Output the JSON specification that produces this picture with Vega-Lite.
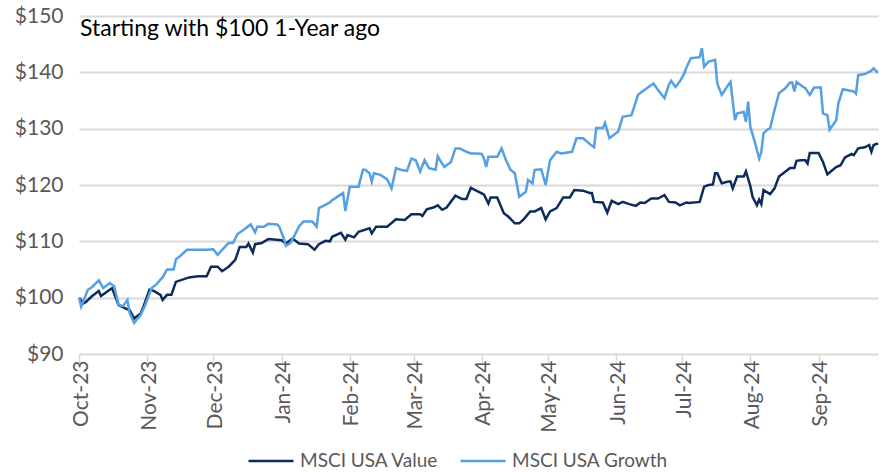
{
"$schema": "https://vega.github.io/schema/vega-lite/v6.json",
"width": 799, "height": 338,
"autosize": {"type": "none"},
"padding": {"left": 79, "top": 16, "right": 5, "bottom": 118},
"config": {"view": {"stroke": null}, "font": "Lato"},
"data": {"values": [
{"date":"2023-10-01","series":"MSCI USA Value","value":100},
{"date":"2023-10-03","series":"MSCI USA Value","value":99},
{"date":"2023-10-04","series":"MSCI USA Value","value":99.2},
{"date":"2023-10-07","series":"MSCI USA Value","value":100.3},
{"date":"2023-10-10","series":"MSCI USA Value","value":101.2},
{"date":"2023-10-11","series":"MSCI USA Value","value":100.3},
{"date":"2023-10-16","series":"MSCI USA Value","value":101.7},
{"date":"2023-10-19","series":"MSCI USA Value","value":98.7},
{"date":"2023-10-22","series":"MSCI USA Value","value":98.1},
{"date":"2023-10-24","series":"MSCI USA Value","value":97.8},
{"date":"2023-10-26","series":"MSCI USA Value","value":96.3},
{"date":"2023-10-29","series":"MSCI USA Value","value":97.2},
{"date":"2023-10-30","series":"MSCI USA Value","value":98.1},
{"date":"2023-11-02","series":"MSCI USA Value","value":101.4},
{"date":"2023-11-04","series":"MSCI USA Value","value":101.2},
{"date":"2023-11-07","series":"MSCI USA Value","value":100.5},
{"date":"2023-11-08","series":"MSCI USA Value","value":99.6},
{"date":"2023-11-10","series":"MSCI USA Value","value":100.5},
{"date":"2023-11-12","series":"MSCI USA Value","value":100.5},
{"date":"2023-11-14","series":"MSCI USA Value","value":102.8},
{"date":"2023-11-17","series":"MSCI USA Value","value":103.2},
{"date":"2023-11-20","series":"MSCI USA Value","value":103.6},
{"date":"2023-11-24","series":"MSCI USA Value","value":103.8},
{"date":"2023-11-28","series":"MSCI USA Value","value":103.8},
{"date":"2023-11-30","series":"MSCI USA Value","value":105.5},
{"date":"2023-12-03","series":"MSCI USA Value","value":105.5},
{"date":"2023-12-05","series":"MSCI USA Value","value":104.7},
{"date":"2023-12-08","series":"MSCI USA Value","value":105.5},
{"date":"2023-12-11","series":"MSCI USA Value","value":106.7},
{"date":"2023-12-13","series":"MSCI USA Value","value":109},
{"date":"2023-12-16","series":"MSCI USA Value","value":109},
{"date":"2023-12-17","series":"MSCI USA Value","value":109.6},
{"date":"2023-12-19","series":"MSCI USA Value","value":108},
{"date":"2023-12-20","series":"MSCI USA Value","value":109.5},
{"date":"2023-12-23","series":"MSCI USA Value","value":109.7},
{"date":"2023-12-26","series":"MSCI USA Value","value":110.4},
{"date":"2024-01-01","series":"MSCI USA Value","value":110.2},
{"date":"2024-01-03","series":"MSCI USA Value","value":109.6},
{"date":"2024-01-06","series":"MSCI USA Value","value":110.5},
{"date":"2024-01-09","series":"MSCI USA Value","value":109.6},
{"date":"2024-01-13","series":"MSCI USA Value","value":109.5},
{"date":"2024-01-16","series":"MSCI USA Value","value":108.5},
{"date":"2024-01-18","series":"MSCI USA Value","value":109.5},
{"date":"2024-01-21","series":"MSCI USA Value","value":110.1},
{"date":"2024-01-23","series":"MSCI USA Value","value":110},
{"date":"2024-01-24","series":"MSCI USA Value","value":110.8},
{"date":"2024-01-28","series":"MSCI USA Value","value":111.5},
{"date":"2024-01-30","series":"MSCI USA Value","value":110.3},
{"date":"2024-01-31","series":"MSCI USA Value","value":111.1},
{"date":"2024-02-03","series":"MSCI USA Value","value":110.7},
{"date":"2024-02-05","series":"MSCI USA Value","value":111.7},
{"date":"2024-02-10","series":"MSCI USA Value","value":112.3},
{"date":"2024-02-11","series":"MSCI USA Value","value":111.4},
{"date":"2024-02-13","series":"MSCI USA Value","value":112.6},
{"date":"2024-02-18","series":"MSCI USA Value","value":112.6},
{"date":"2024-02-22","series":"MSCI USA Value","value":113.9},
{"date":"2024-02-26","series":"MSCI USA Value","value":113.8},
{"date":"2024-02-29","series":"MSCI USA Value","value":114.8},
{"date":"2024-03-04","series":"MSCI USA Value","value":114.8},
{"date":"2024-03-05","series":"MSCI USA Value","value":114.5},
{"date":"2024-03-07","series":"MSCI USA Value","value":115.7},
{"date":"2024-03-10","series":"MSCI USA Value","value":116},
{"date":"2024-03-12","series":"MSCI USA Value","value":116.4},
{"date":"2024-03-14","series":"MSCI USA Value","value":115.6},
{"date":"2024-03-16","series":"MSCI USA Value","value":116},
{"date":"2024-03-20","series":"MSCI USA Value","value":118.1},
{"date":"2024-03-23","series":"MSCI USA Value","value":117.5},
{"date":"2024-03-25","series":"MSCI USA Value","value":117.5},
{"date":"2024-03-27","series":"MSCI USA Value","value":119.5},
{"date":"2024-03-29","series":"MSCI USA Value","value":119.1},
{"date":"2024-04-01","series":"MSCI USA Value","value":118.5},
{"date":"2024-04-02","series":"MSCI USA Value","value":118.3},
{"date":"2024-04-04","series":"MSCI USA Value","value":116.7},
{"date":"2024-04-05","series":"MSCI USA Value","value":117.8},
{"date":"2024-04-08","series":"MSCI USA Value","value":117.8},
{"date":"2024-04-11","series":"MSCI USA Value","value":115},
{"date":"2024-04-13","series":"MSCI USA Value","value":114.4},
{"date":"2024-04-16","series":"MSCI USA Value","value":113.2},
{"date":"2024-04-18","series":"MSCI USA Value","value":113.2},
{"date":"2024-04-20","series":"MSCI USA Value","value":113.9},
{"date":"2024-04-23","series":"MSCI USA Value","value":115.3},
{"date":"2024-04-25","series":"MSCI USA Value","value":115.3},
{"date":"2024-04-28","series":"MSCI USA Value","value":115.9},
{"date":"2024-04-30","series":"MSCI USA Value","value":113.9},
{"date":"2024-05-02","series":"MSCI USA Value","value":115.3},
{"date":"2024-05-05","series":"MSCI USA Value","value":115.9},
{"date":"2024-05-08","series":"MSCI USA Value","value":117.8},
{"date":"2024-05-11","series":"MSCI USA Value","value":117.8},
{"date":"2024-05-13","series":"MSCI USA Value","value":119.1},
{"date":"2024-05-17","series":"MSCI USA Value","value":119},
{"date":"2024-05-20","series":"MSCI USA Value","value":118.6},
{"date":"2024-05-21","series":"MSCI USA Value","value":118.6},
{"date":"2024-05-22","series":"MSCI USA Value","value":117},
{"date":"2024-05-26","series":"MSCI USA Value","value":116.9},
{"date":"2024-05-28","series":"MSCI USA Value","value":115.1},
{"date":"2024-05-30","series":"MSCI USA Value","value":117.2},
{"date":"2024-06-02","series":"MSCI USA Value","value":116.6},
{"date":"2024-06-04","series":"MSCI USA Value","value":117},
{"date":"2024-06-07","series":"MSCI USA Value","value":116.6},
{"date":"2024-06-10","series":"MSCI USA Value","value":116.3},
{"date":"2024-06-12","series":"MSCI USA Value","value":116.9},
{"date":"2024-06-14","series":"MSCI USA Value","value":116.8},
{"date":"2024-06-17","series":"MSCI USA Value","value":117.6},
{"date":"2024-06-20","series":"MSCI USA Value","value":117.6},
{"date":"2024-06-23","series":"MSCI USA Value","value":118.2},
{"date":"2024-06-25","series":"MSCI USA Value","value":117},
{"date":"2024-06-28","series":"MSCI USA Value","value":116.9},
{"date":"2024-06-30","series":"MSCI USA Value","value":116.4},
{"date":"2024-07-03","series":"MSCI USA Value","value":116.9},
{"date":"2024-07-04","series":"MSCI USA Value","value":116.8},
{"date":"2024-07-09","series":"MSCI USA Value","value":117},
{"date":"2024-07-11","series":"MSCI USA Value","value":119.7},
{"date":"2024-07-13","series":"MSCI USA Value","value":120},
{"date":"2024-07-15","series":"MSCI USA Value","value":120.1},
{"date":"2024-07-16","series":"MSCI USA Value","value":122.1},
{"date":"2024-07-17","series":"MSCI USA Value","value":122.1},
{"date":"2024-07-19","series":"MSCI USA Value","value":120.3},
{"date":"2024-07-22","series":"MSCI USA Value","value":120.6},
{"date":"2024-07-23","series":"MSCI USA Value","value":120.6},
{"date":"2024-07-24","series":"MSCI USA Value","value":119.4},
{"date":"2024-07-26","series":"MSCI USA Value","value":121.5},
{"date":"2024-07-29","series":"MSCI USA Value","value":121.5},
{"date":"2024-07-30","series":"MSCI USA Value","value":122.4},
{"date":"2024-08-01","series":"MSCI USA Value","value":119.8},
{"date":"2024-08-02","series":"MSCI USA Value","value":117.9},
{"date":"2024-08-04","series":"MSCI USA Value","value":116.4},
{"date":"2024-08-05","series":"MSCI USA Value","value":117.4},
{"date":"2024-08-06","series":"MSCI USA Value","value":116.6},
{"date":"2024-08-07","series":"MSCI USA Value","value":119.1},
{"date":"2024-08-10","series":"MSCI USA Value","value":118.4},
{"date":"2024-08-12","series":"MSCI USA Value","value":119.4},
{"date":"2024-08-14","series":"MSCI USA Value","value":121.5},
{"date":"2024-08-17","series":"MSCI USA Value","value":122.4},
{"date":"2024-08-19","series":"MSCI USA Value","value":123},
{"date":"2024-08-21","series":"MSCI USA Value","value":123},
{"date":"2024-08-22","series":"MSCI USA Value","value":124.3},
{"date":"2024-08-24","series":"MSCI USA Value","value":124.4},
{"date":"2024-08-26","series":"MSCI USA Value","value":124.4},
{"date":"2024-08-27","series":"MSCI USA Value","value":123.8},
{"date":"2024-08-28","series":"MSCI USA Value","value":125.7},
{"date":"2024-09-01","series":"MSCI USA Value","value":125.7},
{"date":"2024-09-03","series":"MSCI USA Value","value":124.1},
{"date":"2024-09-05","series":"MSCI USA Value","value":121.9},
{"date":"2024-09-09","series":"MSCI USA Value","value":123.2},
{"date":"2024-09-11","series":"MSCI USA Value","value":123.5},
{"date":"2024-09-13","series":"MSCI USA Value","value":124.9},
{"date":"2024-09-16","series":"MSCI USA Value","value":125.5},
{"date":"2024-09-17","series":"MSCI USA Value","value":125.3},
{"date":"2024-09-19","series":"MSCI USA Value","value":126.5},
{"date":"2024-09-22","series":"MSCI USA Value","value":126.7},
{"date":"2024-09-24","series":"MSCI USA Value","value":127.1},
{"date":"2024-09-25","series":"MSCI USA Value","value":125.9},
{"date":"2024-09-26","series":"MSCI USA Value","value":127.1},
{"date":"2024-09-28","series":"MSCI USA Value","value":127.4},
{"date":"2023-10-01","series":"MSCI USA Growth","value":100},
{"date":"2023-10-02","series":"MSCI USA Growth","value":98.4},
{"date":"2023-10-05","series":"MSCI USA Growth","value":101.4},
{"date":"2023-10-07","series":"MSCI USA Growth","value":101.9},
{"date":"2023-10-10","series":"MSCI USA Growth","value":103.1},
{"date":"2023-10-12","series":"MSCI USA Growth","value":101.7},
{"date":"2023-10-15","series":"MSCI USA Growth","value":102.6},
{"date":"2023-10-17","series":"MSCI USA Growth","value":102},
{"date":"2023-10-19","series":"MSCI USA Growth","value":98.7},
{"date":"2023-10-21","series":"MSCI USA Growth","value":98.5},
{"date":"2023-10-23","series":"MSCI USA Growth","value":99.6},
{"date":"2023-10-24","series":"MSCI USA Growth","value":97.3},
{"date":"2023-10-26","series":"MSCI USA Growth","value":95.5},
{"date":"2023-10-29","series":"MSCI USA Growth","value":96.9},
{"date":"2023-10-31","series":"MSCI USA Growth","value":98.6},
{"date":"2023-11-03","series":"MSCI USA Growth","value":101.7},
{"date":"2023-11-05","series":"MSCI USA Growth","value":102.3},
{"date":"2023-11-07","series":"MSCI USA Growth","value":103.2},
{"date":"2023-11-08","series":"MSCI USA Growth","value":103.6},
{"date":"2023-11-10","series":"MSCI USA Growth","value":105},
{"date":"2023-11-13","series":"MSCI USA Growth","value":105},
{"date":"2023-11-14","series":"MSCI USA Growth","value":106.8},
{"date":"2023-11-16","series":"MSCI USA Growth","value":107.4},
{"date":"2023-11-19","series":"MSCI USA Growth","value":108.5},
{"date":"2023-11-22","series":"MSCI USA Growth","value":108.5},
{"date":"2023-11-28","series":"MSCI USA Growth","value":108.5},
{"date":"2023-12-01","series":"MSCI USA Growth","value":108.6},
{"date":"2023-12-03","series":"MSCI USA Growth","value":107.6},
{"date":"2023-12-05","series":"MSCI USA Growth","value":108.5},
{"date":"2023-12-08","series":"MSCI USA Growth","value":109.7},
{"date":"2023-12-10","series":"MSCI USA Growth","value":109.7},
{"date":"2023-12-12","series":"MSCI USA Growth","value":111.3},
{"date":"2023-12-15","series":"MSCI USA Growth","value":112.1},
{"date":"2023-12-18","series":"MSCI USA Growth","value":113},
{"date":"2023-12-20","series":"MSCI USA Growth","value":111.6},
{"date":"2023-12-21","series":"MSCI USA Growth","value":112.6},
{"date":"2023-12-24","series":"MSCI USA Growth","value":112.6},
{"date":"2023-12-26","series":"MSCI USA Growth","value":113.1},
{"date":"2023-12-30","series":"MSCI USA Growth","value":113},
{"date":"2023-12-31","series":"MSCI USA Growth","value":112.6},
{"date":"2024-01-02","series":"MSCI USA Growth","value":110.5},
{"date":"2024-01-03","series":"MSCI USA Growth","value":109.2},
{"date":"2024-01-05","series":"MSCI USA Growth","value":109.7},
{"date":"2024-01-07","series":"MSCI USA Growth","value":111.1},
{"date":"2024-01-09","series":"MSCI USA Growth","value":112.7},
{"date":"2024-01-11","series":"MSCI USA Growth","value":113.5},
{"date":"2024-01-15","series":"MSCI USA Growth","value":113.5},
{"date":"2024-01-17","series":"MSCI USA Growth","value":112.6},
{"date":"2024-01-18","series":"MSCI USA Growth","value":115.9},
{"date":"2024-01-20","series":"MSCI USA Growth","value":116.3},
{"date":"2024-01-23","series":"MSCI USA Growth","value":116.9},
{"date":"2024-01-24","series":"MSCI USA Growth","value":117.3},
{"date":"2024-01-26","series":"MSCI USA Growth","value":117.8},
{"date":"2024-01-29","series":"MSCI USA Growth","value":118.6},
{"date":"2024-01-30","series":"MSCI USA Growth","value":115.4},
{"date":"2024-02-01","series":"MSCI USA Growth","value":119.7},
{"date":"2024-02-05","series":"MSCI USA Growth","value":119.7},
{"date":"2024-02-07","series":"MSCI USA Growth","value":122.7},
{"date":"2024-02-08","series":"MSCI USA Growth","value":122.7},
{"date":"2024-02-10","series":"MSCI USA Growth","value":122.1},
{"date":"2024-02-11","series":"MSCI USA Growth","value":120.6},
{"date":"2024-02-12","series":"MSCI USA Growth","value":122.1},
{"date":"2024-02-15","series":"MSCI USA Growth","value":121.8},
{"date":"2024-02-18","series":"MSCI USA Growth","value":121},
{"date":"2024-02-20","series":"MSCI USA Growth","value":119.4},
{"date":"2024-02-22","series":"MSCI USA Growth","value":123},
{"date":"2024-02-24","series":"MSCI USA Growth","value":122.7},
{"date":"2024-02-27","series":"MSCI USA Growth","value":122.5},
{"date":"2024-02-29","series":"MSCI USA Growth","value":124.7},
{"date":"2024-03-02","series":"MSCI USA Growth","value":124.4},
{"date":"2024-03-04","series":"MSCI USA Growth","value":122.4},
{"date":"2024-03-06","series":"MSCI USA Growth","value":124.4},
{"date":"2024-03-08","series":"MSCI USA Growth","value":123},
{"date":"2024-03-11","series":"MSCI USA Growth","value":122.7},
{"date":"2024-03-12","series":"MSCI USA Growth","value":125.1},
{"date":"2024-03-13","series":"MSCI USA Growth","value":124.4},
{"date":"2024-03-15","series":"MSCI USA Growth","value":123.2},
{"date":"2024-03-18","series":"MSCI USA Growth","value":124.1},
{"date":"2024-03-20","series":"MSCI USA Growth","value":126.5},
{"date":"2024-03-22","series":"MSCI USA Growth","value":126.5},
{"date":"2024-03-25","series":"MSCI USA Growth","value":125.9},
{"date":"2024-03-27","series":"MSCI USA Growth","value":125.6},
{"date":"2024-03-30","series":"MSCI USA Growth","value":125.6},
{"date":"2024-04-01","series":"MSCI USA Growth","value":125.5},
{"date":"2024-04-02","series":"MSCI USA Growth","value":124.7},
{"date":"2024-04-03","series":"MSCI USA Growth","value":123.2},
{"date":"2024-04-04","series":"MSCI USA Growth","value":125},
{"date":"2024-04-08","series":"MSCI USA Growth","value":125},
{"date":"2024-04-10","series":"MSCI USA Growth","value":126.5},
{"date":"2024-04-12","series":"MSCI USA Growth","value":124.4},
{"date":"2024-04-14","series":"MSCI USA Growth","value":122.7},
{"date":"2024-04-16","series":"MSCI USA Growth","value":122.1},
{"date":"2024-04-18","series":"MSCI USA Growth","value":117.9},
{"date":"2024-04-21","series":"MSCI USA Growth","value":118.8},
{"date":"2024-04-22","series":"MSCI USA Growth","value":120.9},
{"date":"2024-04-24","series":"MSCI USA Growth","value":120.3},
{"date":"2024-04-25","series":"MSCI USA Growth","value":122.7},
{"date":"2024-04-28","series":"MSCI USA Growth","value":122.8},
{"date":"2024-04-30","series":"MSCI USA Growth","value":120},
{"date":"2024-05-02","series":"MSCI USA Growth","value":124.4},
{"date":"2024-05-05","series":"MSCI USA Growth","value":125.9},
{"date":"2024-05-07","series":"MSCI USA Growth","value":125.6},
{"date":"2024-05-12","series":"MSCI USA Growth","value":125.9},
{"date":"2024-05-14","series":"MSCI USA Growth","value":128.3},
{"date":"2024-05-17","series":"MSCI USA Growth","value":128.3},
{"date":"2024-05-20","series":"MSCI USA Growth","value":127.3},
{"date":"2024-05-22","series":"MSCI USA Growth","value":126.7},
{"date":"2024-05-23","series":"MSCI USA Growth","value":130.1},
{"date":"2024-05-26","series":"MSCI USA Growth","value":130.1},
{"date":"2024-05-27","series":"MSCI USA Growth","value":131},
{"date":"2024-05-29","series":"MSCI USA Growth","value":128.3},
{"date":"2024-06-02","series":"MSCI USA Growth","value":129.5},
{"date":"2024-06-04","series":"MSCI USA Growth","value":132.1},
{"date":"2024-06-08","series":"MSCI USA Growth","value":132.4},
{"date":"2024-06-11","series":"MSCI USA Growth","value":136},
{"date":"2024-06-14","series":"MSCI USA Growth","value":136.9},
{"date":"2024-06-18","series":"MSCI USA Growth","value":138},
{"date":"2024-06-20","series":"MSCI USA Growth","value":136.9},
{"date":"2024-06-23","series":"MSCI USA Growth","value":135.4},
{"date":"2024-06-25","series":"MSCI USA Growth","value":137.8},
{"date":"2024-06-26","series":"MSCI USA Growth","value":138.5},
{"date":"2024-06-28","series":"MSCI USA Growth","value":137.4},
{"date":"2024-06-30","series":"MSCI USA Growth","value":138.4},
{"date":"2024-07-02","series":"MSCI USA Growth","value":139.8},
{"date":"2024-07-03","series":"MSCI USA Growth","value":140.9},
{"date":"2024-07-05","series":"MSCI USA Growth","value":142.5},
{"date":"2024-07-09","series":"MSCI USA Growth","value":142.7},
{"date":"2024-07-10","series":"MSCI USA Growth","value":144.3},
{"date":"2024-07-11","series":"MSCI USA Growth","value":141},
{"date":"2024-07-13","series":"MSCI USA Growth","value":141.9},
{"date":"2024-07-16","series":"MSCI USA Growth","value":142.2},
{"date":"2024-07-17","series":"MSCI USA Growth","value":138},
{"date":"2024-07-19","series":"MSCI USA Growth","value":136},
{"date":"2024-07-22","series":"MSCI USA Growth","value":137.8},
{"date":"2024-07-23","series":"MSCI USA Growth","value":138.3},
{"date":"2024-07-25","series":"MSCI USA Growth","value":131.5},
{"date":"2024-07-26","series":"MSCI USA Growth","value":132.7},
{"date":"2024-07-29","series":"MSCI USA Growth","value":133},
{"date":"2024-07-30","series":"MSCI USA Growth","value":131.2},
{"date":"2024-07-31","series":"MSCI USA Growth","value":134.8},
{"date":"2024-08-01","series":"MSCI USA Growth","value":130.3},
{"date":"2024-08-03","series":"MSCI USA Growth","value":127.7},
{"date":"2024-08-05","series":"MSCI USA Growth","value":124.7},
{"date":"2024-08-06","series":"MSCI USA Growth","value":125.9},
{"date":"2024-08-07","series":"MSCI USA Growth","value":129.2},
{"date":"2024-08-09","series":"MSCI USA Growth","value":129.9},
{"date":"2024-08-10","series":"MSCI USA Growth","value":130.1},
{"date":"2024-08-12","series":"MSCI USA Growth","value":133.3},
{"date":"2024-08-14","series":"MSCI USA Growth","value":136.3},
{"date":"2024-08-17","series":"MSCI USA Growth","value":137.2},
{"date":"2024-08-19","series":"MSCI USA Growth","value":138.2},
{"date":"2024-08-20","series":"MSCI USA Growth","value":138.2},
{"date":"2024-08-21","series":"MSCI USA Growth","value":136.6},
{"date":"2024-08-22","series":"MSCI USA Growth","value":138.3},
{"date":"2024-08-25","series":"MSCI USA Growth","value":137.4},
{"date":"2024-08-26","series":"MSCI USA Growth","value":137.2},
{"date":"2024-08-28","series":"MSCI USA Growth","value":136},
{"date":"2024-08-30","series":"MSCI USA Growth","value":137.3},
{"date":"2024-09-02","series":"MSCI USA Growth","value":137.3},
{"date":"2024-09-03","series":"MSCI USA Growth","value":132.7},
{"date":"2024-09-05","series":"MSCI USA Growth","value":132.4},
{"date":"2024-09-06","series":"MSCI USA Growth","value":129.8},
{"date":"2024-09-09","series":"MSCI USA Growth","value":131.5},
{"date":"2024-09-10","series":"MSCI USA Growth","value":134.5},
{"date":"2024-09-12","series":"MSCI USA Growth","value":137},
{"date":"2024-09-17","series":"MSCI USA Growth","value":136.6},
{"date":"2024-09-18","series":"MSCI USA Growth","value":136.2},
{"date":"2024-09-19","series":"MSCI USA Growth","value":139.5},
{"date":"2024-09-22","series":"MSCI USA Growth","value":139.7},
{"date":"2024-09-25","series":"MSCI USA Growth","value":140.3},
{"date":"2024-09-26","series":"MSCI USA Growth","value":140.7},
{"date":"2024-09-28","series":"MSCI USA Growth","value":139.9}
]},
"layer": [
{
"mark": {"type": "line", "strokeWidth": 2.5},
"encoding": {
"x": {"field": "date", "type": "temporal",
"scale": {"type": "utc", "domain": [{"year": 2023, "month": 10, "date": 1, "utc": true}, {"year": 2024, "month": 9, "date": 28, "utc": true}]},
"axis": {"title": null, "tickCount": "month", "format": "%b-%y", "labelAngle": -90, "labelFontSize": 21, "labelColor": "#595959", "labelFlush": false, "labelOverlap": false, "labelPadding": -4, "labelOffset": 2, "tickColor": "#d9d9d9", "tickSize": 10, "tickWidth": 1.5, "domain": false, "grid": false}},
"y": {"field": "value", "type": "quantitative",
"scale": {"domain": [90, 150], "nice": false, "zero": false},
"axis": {"title": null, "values": [90, 95, 100, 105, 110, 115, 120, 125, 130, 135, 140, 145, 150], "labelExpr": "'$' + datum.value", "labelFontSize": 21, "labelColor": "#595959", "labelPadding": 16, "domain": false, "ticks": false, "gridColor": "#d9d9d9", "gridWidth": 2}},
"color": {"field": "series", "type": "nominal",
"scale": {"domain": ["MSCI USA Value", "MSCI USA Growth"], "range": ["#0D2B5B", "#559FE3"]},
"legend": {"title": null, "orient": "none", "legendX": 168, "legendY": 421, "direction": "horizontal", "symbolType": "stroke", "symbolSize": 2025, "symbolStrokeWidth": 2.5, "labelFontSize": 19, "labelColor": "#595959", "labelOffset": 5, "labelLimit": 400, "columnPadding": 16}}
}
},
{
"data": {"values": [{}]},
"mark": {"type": "text", "text": "Starting with $100 1-Year ago", "align": "left", "baseline": "middle", "fontSize": 23, "color": "#000000", "dx": 1},
"encoding": {
"x": {"datum": {"year": 2023, "month": 10, "date": 1, "utc": true}, "type": "temporal"},
"y": {"datum": 147.7, "type": "quantitative"}
}
}
]
}
